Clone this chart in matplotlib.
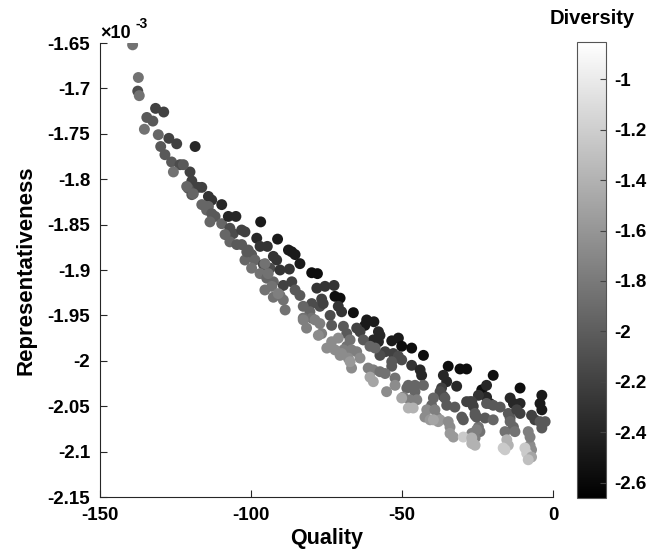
import numpy as np
import matplotlib
matplotlib.use('Agg')
import matplotlib.pyplot as plt
from matplotlib.ticker import FuncFormatter

plt.rcParams['font.family'] = ['Liberation Sans', 'DejaVu Sans']
plt.rcParams['font.weight'] = 'bold'

# Quality, Representativeness (x1e-3), Diversity
quality = [
    -139.2, -137.3, -137.5, -137.0, -131.6, -128.9, -134.5, -132.5, -135.3, -130.7,
    -127.2, -124.6, -118.5, -129.9, -128.5, -126.3, -123.5, -125.7, -120.2, -119.6,
    -117.5, -116.3, -120.8, -119.6, -114.1, -113.0, -109.7, -116.3, -114.1, -122.4,
    -121.3, -119.1, -114.7, -113.0, -111.9, -109.7, -107.5, -105.0, -96.8, -113.6,
    -107.0, -105.9, -103.1, -102.0, -108.6, -107.0, -98.1, -91.2, -104.7, -97.0,
    -94.6, -100.9, -99.8, -102.0, -98.7, -92.6, -91.5, -87.6, -95.9, -93.7,
    -99.8, -103.1, -101.4, -86.5, -85.4, -83.8, -90.4, -87.3, -79.9, -78.0,
    -97.0, -94.8, -92.6, -89.3, -86.5, -95.4, -85.4, -83.8, -78.2, -75.5,
    -72.2, -70.5, -92.6, -90.4, -76.6, -79.9, -77.2, -89.3, -88.7, -82.7,
    -71.1, -70.0, -80.5, -73.8, -82.7, -79.9, -72.5, -76.1, -66.1, -73.3,
    -61.7, -59.3, -62.3, -77.2, -76.6, -69.4, -68.3, -65.0, -63.9, -57.8,
    -57.3, -59.5, -57.8, -62.8, -53.4, -51.2, -50.1, -46.8, -73.3, -71.1,
    -74.9, -67.2, -68.3, -55.6, -52.9, -57.3, -60.6, -58.9, -51.2, -50.1,
    -42.9, -46.8, -69.4, -66.7, -65.0, -70.5, -67.8, -63.9, -66.7, -61.2,
    -59.5, -53.4, -53.4, -57.3, -55.6, -52.3, -44.0, -43.5, -60.6, -59.5,
    -47.9, -45.7, -42.9, -34.7, -30.8, -28.6, -36.3, -35.2, -31.9, -36.9,
    -37.4, -36.3, -23.6, -22.0, -20.9, -48.4, -45.7, -49.6, -47.4, -45.1,
    -39.6, -40.2, -35.8, -35.2, -28.6, -27.5, -47.9, -46.3, -41.8, -42.4,
    -39.1, -38.5, -32.5, -30.2, -29.7, -25.8, -22.5, -40.7, -38.0, -37.4,
    -34.7, -34.1, -24.7, -24.2, -34.1, -33.0, -26.9, -25.8, -29.7, -26.9,
    -25.8, -19.8, -22.0, -24.7, -10.9, -14.2, -13.1, -10.9, -3.7, -4.3,
    -3.7, -26.9, -26.4, -22.0, -19.8, -17.5, -14.8, -14.2, -12.0, -10.9,
    -7.1, -6.0, -4.3, -2.6, -3.7, -25.8, -25.3, -19.8, -14.2, -13.1,
    -12.6, -15.9, -25.3, -26.9, -26.4, -15.3, -14.8, -16.5, -7.6, -7.1,
    -9.3, -8.7, -7.1, -8.2, -7.6, -95.4, -94.3, -93.1, -91.0, -82.7,
    -81.6, -78.8, -77.7, -72.2, -70.0, -67.2, -55.1, -52.3, -50.1, -39.6,
    -15.9, -8.2,
]
representativeness = [
    -1.652, -1.688, -1.703, -1.708, -1.722, -1.726, -1.732, -1.736, -1.745, -1.751,
    -1.755, -1.761, -1.764, -1.764, -1.773, -1.781, -1.784, -1.792, -1.792, -1.802,
    -1.809, -1.809, -1.810, -1.817, -1.819, -1.823, -1.828, -1.828, -1.830, -1.784,
    -1.808, -1.816, -1.834, -1.838, -1.841, -1.849, -1.841, -1.841, -1.847, -1.847,
    -1.854, -1.860, -1.856, -1.858, -1.861, -1.869, -1.865, -1.866, -1.872, -1.874,
    -1.874, -1.878, -1.883, -1.889, -1.889, -1.885, -1.889, -1.878, -1.894, -1.898,
    -1.898, -1.872, -1.880, -1.880, -1.883, -1.893, -1.900, -1.899, -1.903, -1.904,
    -1.904, -1.909, -1.913, -1.917, -1.913, -1.922, -1.922, -1.928, -1.920, -1.918,
    -1.929, -1.931, -1.930, -1.928, -1.932, -1.937, -1.940, -1.933, -1.944, -1.940,
    -1.940, -1.946, -1.946, -1.950, -1.953, -1.953, -1.917, -1.937, -1.947, -1.961,
    -1.955, -1.957, -1.961, -1.959, -1.970, -1.962, -1.970, -1.964, -1.968, -1.968,
    -1.972, -1.977, -1.979, -1.977, -1.978, -1.975, -1.984, -1.986, -1.979, -1.975,
    -1.986, -1.977, -1.984, -1.990, -1.992, -1.994, -1.984, -1.986, -1.995, -1.999,
    -1.994, -2.005, -1.988, -1.988, -1.990, -1.994, -1.997, -1.997, -2.008, -2.008,
    -2.010, -2.001, -2.006, -2.012, -2.014, -2.019, -2.010, -2.016, -2.018, -2.023,
    -2.027, -2.027, -2.027, -2.006, -2.009, -2.009, -2.016, -2.023, -2.028, -2.030,
    -2.034, -2.039, -2.032, -2.040, -2.047, -2.030, -2.034, -2.040, -2.043, -2.043,
    -2.041, -2.049, -2.041, -2.049, -2.045, -2.045, -2.052, -2.052, -2.054, -2.062,
    -2.054, -2.062, -2.051, -2.062, -2.065, -2.060, -2.063, -2.065, -2.067, -2.065,
    -2.067, -2.073, -2.073, -2.078, -2.080, -2.084, -2.080, -2.085, -2.084, -2.091,
    -2.093, -2.016, -2.027, -2.038, -2.030, -2.041, -2.047, -2.047, -2.038, -2.047,
    -2.054, -2.045, -2.050, -2.047, -2.049, -2.051, -2.058, -2.063, -2.054, -2.058,
    -2.060, -2.065, -2.067, -2.067, -2.074, -2.058, -2.062, -2.065, -2.067, -2.073,
    -2.078, -2.078, -2.076, -2.085, -2.091, -2.087, -2.093, -2.096, -2.093, -2.098,
    -2.096, -2.102, -2.106, -2.078, -2.084, -1.893, -1.904, -1.918, -1.926, -1.955,
    -1.964, -1.955, -1.972, -1.988, -1.992, -2.001, -2.034, -2.027, -2.041, -2.065,
    -2.098, -2.109,
]
diversity = [
    -1.85, -1.85, -2.12, -1.85, -2.20, -2.20, -2.03, -2.03, -1.85, -1.94,
    -2.20, -2.20, -2.38, -2.03, -2.03, -2.03, -2.12, -1.85, -2.20, -2.20,
    -2.20, -2.20, -2.03, -2.03, -2.29, -2.29, -2.38, -1.94, -1.94, -2.03,
    -1.94, -1.94, -1.94, -2.03, -2.03, -1.94, -2.38, -2.38, -2.47, -1.94,
    -2.12, -2.12, -2.20, -2.20, -1.94, -1.94, -2.38, -2.47, -2.03, -2.29,
    -2.29, -2.03, -2.03, -1.94, -1.94, -2.29, -2.29, -2.47, -2.12, -2.12,
    -1.85, -2.03, -2.03, -2.47, -2.47, -2.47, -2.29, -2.29, -2.56, -2.56,
    -1.85, -1.94, -1.94, -2.20, -2.20, -1.85, -2.03, -2.03, -2.29, -2.29,
    -2.56, -2.56, -1.85, -1.85, -2.20, -2.12, -2.12, -1.85, -1.85, -1.94,
    -2.29, -2.29, -1.94, -2.12, -1.85, -1.85, -2.29, -2.20, -2.56, -2.03,
    -2.47, -2.47, -2.47, -1.76, -1.76, -2.03, -2.03, -2.20, -2.20, -2.38,
    -2.38, -2.38, -2.38, -2.03, -2.47, -2.47, -2.56, -2.56, -1.67, -1.67,
    -1.67, -1.85, -1.85, -2.20, -2.20, -2.12, -1.94, -1.94, -2.12, -2.12,
    -2.56, -2.29, -1.76, -1.76, -1.76, -1.67, -1.67, -1.67, -1.67, -1.76,
    -1.76, -2.03, -2.03, -1.85, -1.85, -1.85, -2.38, -2.38, -1.49, -1.49,
    -1.94, -1.94, -1.94, -2.56, -2.56, -2.56, -2.38, -2.38, -2.38, -2.20,
    -2.12, -2.12, -2.56, -2.38, -2.38, -1.94, -1.94, -1.76, -1.76, -1.76,
    -1.94, -1.94, -2.03, -2.03, -2.20, -2.20, -1.40, -1.40, -1.67, -1.67,
    -1.76, -1.76, -2.03, -2.03, -2.03, -2.12, -2.03, -1.58, -1.58, -1.58,
    -1.67, -1.67, -1.85, -1.85, -1.58, -1.58, -1.76, -1.76, -1.23, -1.40,
    -1.40, -2.56, -2.38, -2.29, -2.56, -2.38, -2.38, -2.38, -2.47, -2.47,
    -2.47, -2.20, -2.20, -2.03, -2.03, -2.03, -2.03, -2.03, -2.20, -2.20,
    -2.20, -2.20, -2.03, -2.03, -2.03, -2.03, -2.03, -1.94, -1.94, -1.94,
    -1.85, -1.85, -1.76, -1.40, -1.40, -1.40, -1.40, -1.23, -1.67, -1.67,
    -1.23, -1.23, -1.49, -1.76, -1.76, -1.85, -1.85, -1.85, -1.76, -1.76,
    -1.76, -1.76, -1.67, -1.67, -1.67, -1.58, -1.67, -1.67, -1.49, -1.49,
    -1.23, -1.31,
]

xticks = [-150, -100, -50, 0]
yticks = [-2.15, -2.1, -2.05, -2.0, -1.95, -1.9, -1.85, -1.8, -1.75, -1.7, -1.65]
cticks = [-2.6, -2.4, -2.2, -2.0, -1.8, -1.6, -1.4, -1.2, -1.0]

q = np.array(quality)
r = np.array(representativeness) * 1e-3
d = np.array(diversity)

W, H = 647, 558
fig = plt.figure(figsize=(W / 100, H / 100), dpi=100)
ax = fig.add_axes([100 / W, 1 - 497 / H, 453 / W, 454 / H])

sc = ax.scatter(q, r, c=d, cmap='gray', vmin=-2.66, vmax=-0.853, s=62, linewidths=0)

ax.set_xlim(-150, 0)
ax.set_ylim(-2.15e-3, -1.65e-3)
ax.set_xticks(xticks)
ax.set_yticks([v * 1e-3 for v in yticks])
ax.xaxis.set_major_formatter(FuncFormatter(lambda v, p: '%g' % v))
ax.yaxis.set_major_formatter(FuncFormatter(lambda v, p: '%g' % round(v * 1e3, 3)))
ax.tick_params(direction='in', length=5, width=0.8, labelsize=13.5, color='#262626', pad=7)
for sp in ['top', 'right']:
    ax.spines[sp].set_visible(False)
for sp in ['left', 'bottom']:
    ax.spines[sp].set_color('#262626')
    ax.spines[sp].set_linewidth(0.8)
for lab in ax.get_xticklabels() + ax.get_yticklabels():
    lab.set_fontweight('bold')

ax.set_xlabel('Quality', fontsize=15.5, fontweight='bold', labelpad=3)
ax.set_ylabel('Representativeness', fontsize=16, fontweight='bold', labelpad=8)

fig.text(100 / W, 1 - 38 / H, '\u00d710', fontsize=13, fontweight='bold', va='baseline')
fig.text(135 / W, 1 - 28 / H, '-3', fontsize=10, fontweight='bold', va='baseline')

cax = fig.add_axes([577 / W, 1 - 498 / H, 29 / W, 456 / H])
cb = fig.colorbar(sc, cax=cax, ticks=cticks)
cb.ax.yaxis.set_major_formatter(FuncFormatter(lambda v, p: '%g' % round(v, 2)))
cb.ax.tick_params(direction='in', length=4, width=0.8, labelsize=13.5, color='#444444', pad=6)
for lab in cb.ax.get_yticklabels():
    lab.set_fontweight('bold')
cb.outline.set_edgecolor('#555555')
cb.outline.set_linewidth(0.8)
fig.text(592 / W, 1 - 18 / H, 'Diversity', fontsize=14.5, fontweight='bold', ha='center', va='center')

fig.savefig('out.png', dpi=100)
